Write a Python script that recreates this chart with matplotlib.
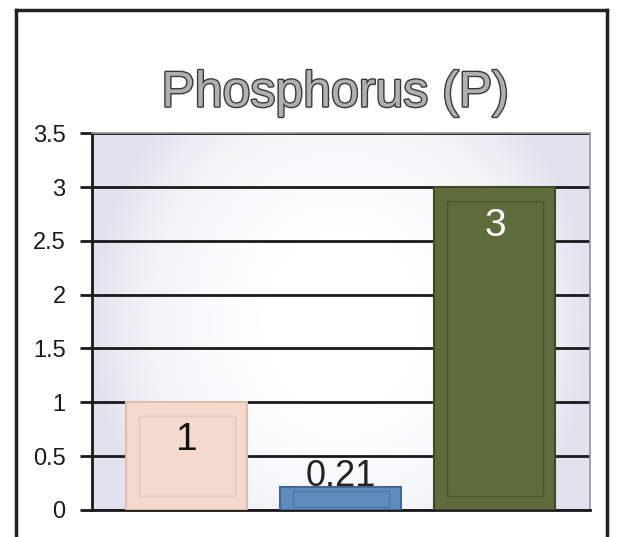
import matplotlib
matplotlib.use("Agg")
import matplotlib.pyplot as plt
import matplotlib.patheffects as pe
import numpy as np
from matplotlib.lines import Line2D

categories = ["A", "B", "C"]
values = [1, 0.21, 3]
labels = ["1", "0.21", "3"]
yticks = [0, 0.5, 1, 1.5, 2, 2.5, 3, 3.5]
ytick_labels = ["0", "0.5", "1", "1.5", "2", "2.5", "3", "3.5"]
title = "Phosphorus (P)"

bar_colors = ["#f5d9cc", "#5f8bbd", "#5e6b3c"]
edge_colors = ["#dcbcae", "#3f6a98", "#3f4a25"]
label_colors = ["#111111", "#222222", "#ffffff"]

plt.rcParams['font.family'] = ['Liberation Sans', 'DejaVu Sans']

fig = plt.figure(figsize=(6.21, 5.37), dpi=100)
fig.patch.set_facecolor("white")

ax = fig.add_axes([0.148, 0.0503, 0.802, 0.7017])
ax.set_xlim(-0.617, 2.617)
ax.set_ylim(0, 3.5)

# background gradient (light gray-blue at edges, white in center)
xx = np.linspace(-1, 1, 200)
yy = np.linspace(-1, 1, 200)
X, Y = np.meshgrid(xx, yy)
R = np.clip(np.sqrt((X / 1.0) ** 2 + (Y / 1.5) ** 2), 0, 1)
bg = np.zeros((200, 200, 3))
c_edge = np.array([0.89, 0.89, 0.94])
c_mid = np.array([1.0, 1.0, 1.0])
for i in range(3):
    bg[:, :, i] = c_mid[i] + (c_edge[i] - c_mid[i]) * R ** 3.0
ax.imshow(bg, extent=[-0.617, 2.617, 0, 3.5], aspect='auto', zorder=0,
          interpolation='bilinear')

ax.set_yticks(yticks)
ax.set_yticklabels(ytick_labels)
ax.set_xticks([])
ax.yaxis.grid(True, color="#1a1a1a", linewidth=2.0, zorder=1)
ax.set_axisbelow(True)
ax.tick_params(axis='y', direction='out', length=9, width=2, color="#1a1a1a",
               labelsize=17, pad=10, labelcolor="#1a1a1a")

for s in ["top", "right"]:
    ax.spines[s].set_color("#999999")
    ax.spines[s].set_linewidth(1.2)
ax.spines["left"].set_color("#1a1a1a")
ax.spines["left"].set_linewidth(2)
ax.spines["bottom"].set_color("#1a1a1a")
ax.spines["bottom"].set_linewidth(2)

x = np.arange(len(categories))
bw = 0.786
bars = ax.bar(x, values, width=bw, color=bar_colors, edgecolor=edge_colors,
              linewidth=1.5, zorder=3)

# bevel inner frame
for xi, v, ec in zip(x, values, edge_colors):
    inset_x = 0.08
    inset_y = min(0.13, v * 0.15)
    ax.add_patch(plt.Rectangle((xi - bw / 2 + inset_x, inset_y), bw - 2 * inset_x,
                               v - 2 * inset_y, fill=False, edgecolor=ec,
                               linewidth=1.0, alpha=0.6, zorder=4))

# data labels
ax.text(x[0], values[0] * 0.65, labels[0], ha='center', va='center',
        fontsize=28, color=label_colors[0], zorder=5)
ax.text(x[1], values[1] + 0.01, labels[1], ha='center', va='baseline',
        fontsize=26, color=label_colors[1], zorder=5)
ax.text(x[2], values[2] - 0.36, labels[2], ha='center', va='center',
        fontsize=28, color=label_colors[2], zorder=5)

# title with outline
fig.text(0.54, 0.826, title, ha='center', va='center', fontsize=36,
         color="#b0b0b0",
         path_effects=[pe.withStroke(linewidth=2.0, foreground="#3a3a3a")])

# outer frame (left, top, right)
frame_lw = 2.5
fig.add_artist(Line2D([0.025, 0.025], [0.0, 0.982], transform=fig.transFigure,
                      color="#222222", linewidth=frame_lw))
fig.add_artist(Line2D([0.025, 0.978], [0.982, 0.982], transform=fig.transFigure,
                      color="#222222", linewidth=frame_lw))
fig.add_artist(Line2D([0.978, 0.978], [0.0, 0.982], transform=fig.transFigure,
                      color="#222222", linewidth=frame_lw))

fig.savefig("out.png", dpi=100, facecolor="white")
